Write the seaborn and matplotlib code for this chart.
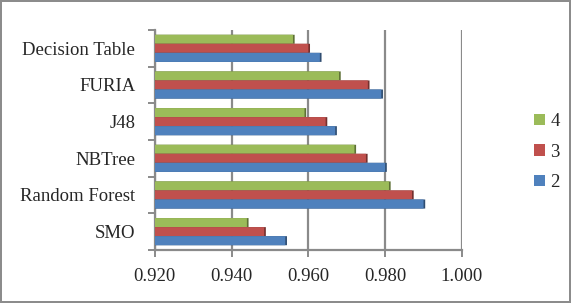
import matplotlib
matplotlib.use("Agg")
import matplotlib.pyplot as plt
import matplotlib.patheffects as pe
from matplotlib.ticker import FormatStrFormatter, FixedLocator
import seaborn as sns
import pandas as pd

categories = ['Decision Table', 'FURIA', 'J48', 'NBTree', 'Random Forest', 'SMO']
series_names = ['4', '3', '2']
vals_4 = [0.956, 0.968, 0.959, 0.972, 0.981, 0.944]
vals_3 = [0.960, 0.9755, 0.9645, 0.975, 0.987, 0.9485]
vals_2 = [0.963, 0.979, 0.967, 0.980, 0.990, 0.954]
x_ticks = [0.920, 0.940, 0.960, 0.980, 1.000]

rows = []
for name, vals in zip(series_names, [vals_4, vals_3, vals_2]):
    for c, v in zip(categories, vals):
        rows.append({'cat': c, 'series': name, 'value': v})
df = pd.DataFrame(rows)

sns.set_theme(style='white')
plt.rcParams['font.family'] = ['Liberation Serif', 'DejaVu Serif']

colors = {'4': '#9BBB59', '3': '#C0504D', '2': '#4F81BD'}

fig = plt.figure(figsize=(5.71, 3.03), dpi=100)
fig.patch.set_facecolor('white')
fig.patch.set_edgecolor('#8c8c8c')
fig.patch.set_linewidth(1.5)
ax = fig.add_axes([0.271, 0.175, 0.538, 0.726])

# gridlines
for t in x_ticks:
    ax.axvline(t, color='#8a8a8a', lw=1.6, zorder=0)

sns.barplot(data=df, y='cat', x='value', hue='series', order=categories,
            hue_order=series_names, palette=colors, orient='h', width=0.74,
            saturation=1, ax=ax, legend=True, zorder=3, linewidth=0, edgecolor='none')

for p in ax.patches:
    p.set_snap(False)
    p.set_path_effects([pe.SimplePatchShadow(offset=(1.2, 0), shadow_rgbFace=None, alpha=1, rho=0.6),
                        pe.Normal()])

ax.set_xlim(0.92, 1.0)
ax.set_ylim(5.5, -0.5)
ax.xaxis.set_major_locator(FixedLocator(x_ticks))
ax.xaxis.set_major_formatter(FormatStrFormatter('%.3f'))
ax.set_xlabel('')
ax.set_ylabel('')

for s in ['top', 'right']:
    ax.spines[s].set_visible(False)
for s in ['left', 'bottom']:
    ax.spines[s].set_color('#8a8a8a')
    ax.spines[s].set_linewidth(1.6)

ax.set_yticks(range(len(categories)))
ax.set_yticklabels(categories)
ax.set_yticks([i + 0.5 for i in range(-1, len(categories))], minor=True)
ax.tick_params(axis='y', which='major', length=0, pad=14, labelsize=13.5)
ax.tick_params(axis='y', which='minor', length=5, color='#8a8a8a', width=1.4, left=True)
ax.tick_params(axis='x', which='major', length=5, color='#8a8a8a', width=1.4, bottom=True,
               pad=8, labelsize=13.5)

h, l = ax.get_legend_handles_labels()
ax.get_legend().remove()
for hh in h:
    hh.set_path_effects([])
fig.legend(h, l, loc='center left', bbox_to_anchor=(0.906, 0.498), frameon=False,
           fontsize=13.5, handlelength=0.6, handleheight=0.6, labelspacing=0.72,
           handletextpad=0.25)

fig.savefig('out.png', dpi=100, facecolor=fig.get_facecolor(), edgecolor=fig.get_edgecolor())
